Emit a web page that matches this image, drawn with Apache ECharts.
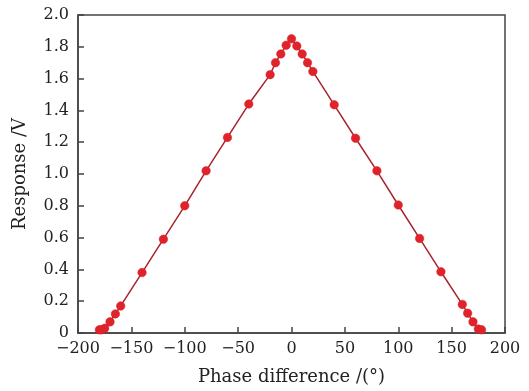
<!DOCTYPE html>
<html><head><meta charset="utf-8">
<script src="https://cdn.jsdelivr.net/npm/echarts@6/dist/echarts.min.js"></script>
<style>html,body{margin:0;padding:0;background:#fff}#c{width:529px;height:391px}</style>
</head><body><div id="c"></div>
<script>
const phase = [-180, -178, -175, -170, -165, -160, -140, -120, -100, -80, -60, -40, -20, -15, -10, -5, 0, 5, 10, 15, 20, 40, 60, 80, 100, 120, 140, 160, 165, 170, 175, 178];
const response = [0.02, 0.02, 0.03, 0.07, 0.12, 0.17, 0.38, 0.59, 0.80, 1.02, 1.23, 1.44, 1.625, 1.70, 1.755, 1.81, 1.85, 1.805, 1.755, 1.70, 1.645, 1.435, 1.225, 1.02, 0.805, 0.595, 0.385, 0.18, 0.125, 0.07, 0.025, 0.02];
const xTicks = [-200, -150, -100, -50, 0, 50, 100, 150, 200];
const yTicks = [0, 0.2, 0.4, 0.6, 0.8, 1.0, 1.2, 1.4, 1.6, 1.8, 2.0];

const data = phase.map((p, i) => [p, response[i]]);
const font = 'DejaVu Serif';
const chart = echarts.init(document.getElementById('c'));
chart.setOption({
  animation: false,
  grid: {left: 78, top: 15, right: 24, bottom: 56, show: true, borderColor: '#444', borderWidth: 1.5, backgroundColor: 'transparent'},
  xAxis: {
    type: 'value', min: xTicks[0], max: xTicks[xTicks.length - 1], interval: 50,
    name: 'Phase difference /(°)', nameLocation: 'middle', nameGap: 35,
    nameTextStyle: {fontFamily: font, fontSize: 18, color: '#222'},
    axisLine: {onZero: false, lineStyle: {color: '#444', width: 1.5}},
    axisTick: {inside: true, length: 6, lineStyle: {color: '#444', width: 1.5}},
    axisLabel: {fontFamily: font, fontSize: 16, color: '#222', margin: 8,
      formatter: v => String(v).replace('-', '\u2212')},
    splitLine: {show: false}
  },
  yAxis: {
    type: 'value', min: yTicks[0], max: yTicks[yTicks.length - 1], interval: 0.2,
    name: 'Response /V', nameLocation: 'middle', nameGap: 49,
    nameTextStyle: {fontFamily: font, fontSize: 18, color: '#222'},
    axisLine: {onZero: false, lineStyle: {color: '#444', width: 1.5}},
    axisTick: {inside: true, length: 6, lineStyle: {color: '#444', width: 1.5}},
    axisLabel: {fontFamily: font, fontSize: 16, color: '#222', margin: 9,
      formatter: v => v === 0 ? '0' : v.toFixed(1)},
    splitLine: {show: false}
  },
  series: [{
    type: 'line', data: data,
    symbol: 'circle', symbolSize: 8.5,
    lineStyle: {color: '#a8242c', width: 1.5},
    itemStyle: {color: '#e0232b', borderColor: '#d81f27', borderWidth: 0.5},
    z: 3
  }]
});
</script></body></html>
